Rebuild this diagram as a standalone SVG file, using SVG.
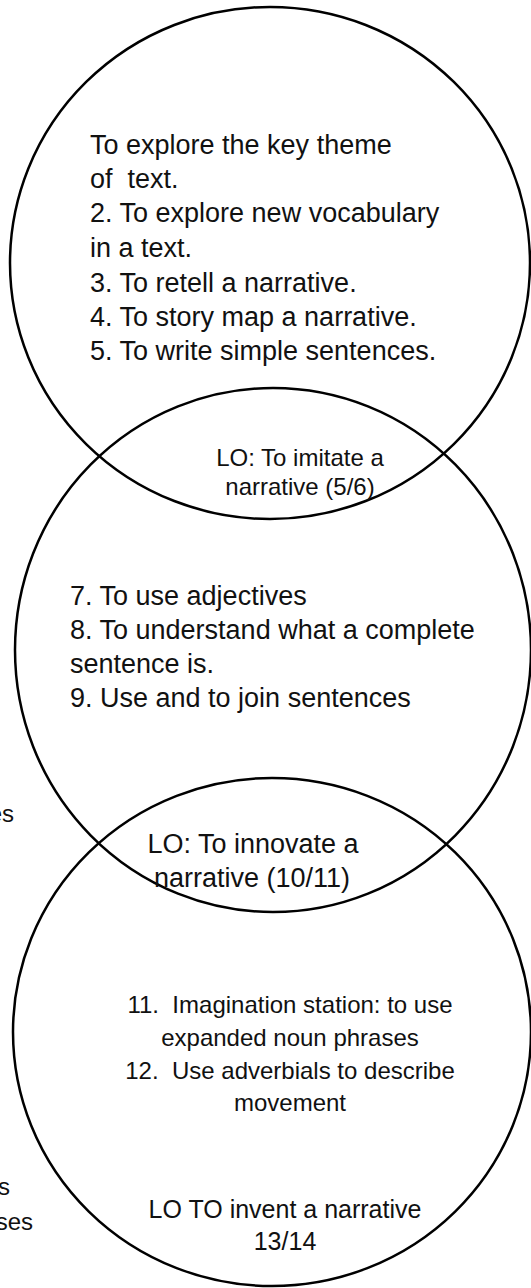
<svg xmlns="http://www.w3.org/2000/svg" width="531" height="1288" viewBox="0 0 531 1288">
<style>
.c{fill:none;stroke:#000;stroke-width:2.5}
.t{font-family:"Liberation Sans",Arial,sans-serif;fill:#111;white-space:pre}
.l{font-size:27px}
.s{font-size:24px}
.b{font-size:25px}
.m{text-anchor:middle}
.e{text-anchor:end}
</style>
<rect width="531" height="1288" fill="#fff"/>
<g id="circle-top">
<ellipse class="c" cx="270" cy="263" rx="260" ry="256"/>
<text class="t l" x="90" y="154">To explore the key theme</text>
<text class="t l" x="90" y="188" xml:space="preserve">of  text.</text>
<text class="t l" x="90" y="222">2. To explore new vocabulary</text>
<text class="t l" x="90" y="257">in a text.</text>
<text class="t l" x="90" y="292">3. To retell a narrative.</text>
<text class="t l" x="90" y="326">4. To story map a narrative.</text>
<text class="t l" x="90" y="360">5. To write simple sentences.</text>
</g>
<g id="circle-middle">
<ellipse class="c" cx="273" cy="650" rx="258" ry="262"/>
<text class="t l" x="70" y="605">7. To use adjectives</text>
<text class="t l" x="70" y="639">8. To understand what a complete</text>
<text class="t l" x="70" y="673">sentence is.</text>
<text class="t l" x="70" y="707">9. Use and to join sentences</text>
</g>
<g id="circle-bottom">
<ellipse class="c" cx="272" cy="1032" rx="259" ry="254"/>
<text class="t s m" x="290" y="1013" xml:space="preserve">11.  Imagination station: to use</text>
<text class="t s m" x="290" y="1046">expanded noun phrases</text>
<text class="t s m" x="290" y="1079" xml:space="preserve">12.  Use adverbials to describe</text>
<text class="t s m" x="290" y="1111">movement</text>
<text class="t b m" x="285" y="1218">LO TO invent a narrative</text>
<text class="t b m" x="285" y="1250">13/14</text>
</g>
<g id="lens-imitate">
<text class="t s m" x="300" y="466">LO: To imitate a</text>
<text class="t s m" x="300" y="495">narrative (5/6)</text>
</g>
<g id="lens-innovate">
<text class="t l m" x="253" y="853">LO: To innovate a</text>
<text class="t l m" x="252" y="887">narrative (10/11)</text>
</g>
<g id="fragments">
<text class="t s e" x="14" y="822">es</text>
<text class="t s e" x="10" y="1195">s</text>
<text class="t s e" x="33" y="1230">ses</text>
</g>
</svg>
